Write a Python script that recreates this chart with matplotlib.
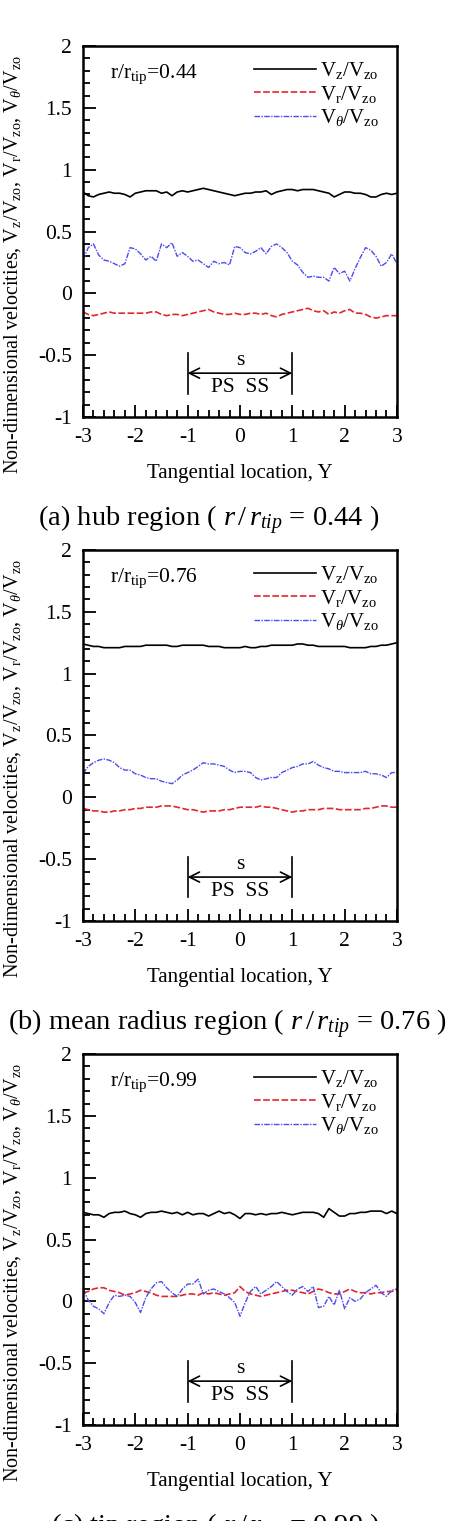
import numpy as np
import matplotlib

matplotlib.use("Agg")
import matplotlib.pyplot as plt
from matplotlib.ticker import MultipleLocator, FormatStrFormatter

plt.rcParams.update(
    {
        "font.family": ["Liberation Serif", "DejaVu Serif"],
        "mathtext.fontset": "custom",
        "mathtext.rm": "Liberation Serif",
        "mathtext.it": "Liberation Serif:italic",
        "axes.unicode_minus": False,
    }
)

# tangential location of the survey points
Y_LOC = np.linspace(-3, 3, 61)

# (a) hub region, r/r_tip = 0.44
HUB_VZ = [0.82, 0.79, 0.78, 0.80, 0.81, 0.82, 0.81, 0.81, 0.80, 0.78, 0.81,
          0.82, 0.83, 0.83, 0.83, 0.81, 0.82, 0.79, 0.82, 0.83, 0.82, 0.83,
          0.84, 0.85, 0.84, 0.83, 0.82, 0.81, 0.80, 0.79, 0.80, 0.81, 0.81,
          0.82, 0.82, 0.83, 0.80, 0.82, 0.83, 0.84, 0.84, 0.83, 0.84, 0.84,
          0.84, 0.83, 0.82, 0.81, 0.78, 0.80, 0.82, 0.82, 0.81, 0.81, 0.80,
          0.78, 0.78, 0.80, 0.81, 0.80, 0.81]
HUB_VR = [-0.15, -0.17, -0.18, -0.17, -0.16, -0.15, -0.16, -0.16, -0.16, -0.16,
          -0.16, -0.16, -0.16, -0.15, -0.15, -0.17, -0.18, -0.17, -0.17, -0.18,
          -0.17, -0.16, -0.15, -0.14, -0.13, -0.15, -0.16, -0.17, -0.17, -0.16,
          -0.17, -0.17, -0.16, -0.16, -0.17, -0.16, -0.18, -0.19, -0.17, -0.16,
          -0.15, -0.14, -0.13, -0.12, -0.14, -0.15, -0.14, -0.17, -0.15, -0.16,
          -0.14, -0.13, -0.16, -0.16, -0.17, -0.19, -0.20, -0.19, -0.18, -0.18,
          -0.18]
HUB_VT = [0.27, 0.37, 0.40, 0.31, 0.27, 0.26, 0.24, 0.22, 0.24, 0.37, 0.36,
          0.32, 0.27, 0.30, 0.26, 0.40, 0.37, 0.41, 0.30, 0.33, 0.30, 0.26,
          0.27, 0.24, 0.21, 0.26, 0.24, 0.25, 0.23, 0.38, 0.37, 0.33, 0.32,
          0.34, 0.37, 0.32, 0.38, 0.40, 0.37, 0.33, 0.26, 0.23, 0.17, 0.13,
          0.14, 0.13, 0.13, 0.10, 0.21, 0.16, 0.18, 0.10, 0.20, 0.29, 0.37,
          0.35, 0.30, 0.22, 0.25, 0.32, 0.24]

# (b) mean radius region, r/r_tip = 0.76
MEAN_VZ = [1.24, 1.23, 1.22, 1.22, 1.21, 1.21, 1.21, 1.21, 1.22, 1.22, 1.22,
           1.22, 1.23, 1.23, 1.23, 1.23, 1.23, 1.22, 1.22, 1.23, 1.23, 1.23,
           1.23, 1.23, 1.22, 1.22, 1.22, 1.21, 1.21, 1.21, 1.21, 1.22, 1.21,
           1.21, 1.22, 1.22, 1.23, 1.23, 1.23, 1.23, 1.23, 1.24, 1.24, 1.23,
           1.23, 1.22, 1.22, 1.22, 1.22, 1.22, 1.22, 1.21, 1.21, 1.21, 1.21,
           1.22, 1.22, 1.23, 1.23, 1.24, 1.25]
MEAN_VR = [-0.09, -0.10, -0.11, -0.11, -0.12, -0.12, -0.11, -0.11, -0.10, -0.10,
           -0.09, -0.09, -0.08, -0.08, -0.08, -0.07, -0.07, -0.07, -0.08, -0.09,
           -0.10, -0.10, -0.11, -0.12, -0.11, -0.11, -0.11, -0.10, -0.10, -0.09,
           -0.08, -0.08, -0.08, -0.08, -0.07, -0.08, -0.08, -0.09, -0.10, -0.11,
           -0.12, -0.11, -0.11, -0.10, -0.10, -0.10, -0.09, -0.09, -0.09, -0.10,
           -0.10, -0.10, -0.10, -0.10, -0.09, -0.09, -0.08, -0.07, -0.07, -0.08,
           -0.08]
MEAN_VT = [0.19, 0.25, 0.28, 0.30, 0.31, 0.30, 0.28, 0.24, 0.22, 0.22, 0.19,
           0.18, 0.16, 0.15, 0.15, 0.13, 0.12, 0.11, 0.14, 0.18, 0.20, 0.22,
           0.25, 0.28, 0.27, 0.27, 0.26, 0.25, 0.22, 0.20, 0.21, 0.21, 0.20,
           0.16, 0.14, 0.15, 0.16, 0.16, 0.20, 0.22, 0.24, 0.25, 0.27, 0.27,
           0.29, 0.26, 0.24, 0.23, 0.21, 0.21, 0.20, 0.20, 0.20, 0.20, 0.21,
           0.19, 0.19, 0.18, 0.16, 0.20, 0.20]

# (c) tip region, r/r_tip = 0.99
TIP_VZ = [0.72, 0.71, 0.70, 0.70, 0.68, 0.71, 0.72, 0.72, 0.73, 0.71, 0.70,
          0.68, 0.71, 0.72, 0.72, 0.73, 0.72, 0.71, 0.72, 0.70, 0.72, 0.70,
          0.71, 0.71, 0.69, 0.71, 0.73, 0.71, 0.72, 0.70, 0.67, 0.71, 0.71,
          0.70, 0.71, 0.70, 0.71, 0.71, 0.72, 0.71, 0.70, 0.71, 0.72, 0.72,
          0.72, 0.71, 0.68, 0.75, 0.72, 0.69, 0.69, 0.71, 0.71, 0.72, 0.72,
          0.73, 0.73, 0.73, 0.71, 0.73, 0.71]
TIP_VR = [0.07, 0.08, 0.10, 0.11, 0.11, 0.09, 0.08, 0.07, 0.05, 0.06, 0.07,
          0.09, 0.08, 0.07, 0.05, 0.04, 0.04, 0.04, 0.04, 0.05, 0.06, 0.06,
          0.05, 0.07, 0.06, 0.07, 0.06, 0.05, 0.06, 0.07, 0.12, 0.08, 0.06,
          0.05, 0.04, 0.05, 0.06, 0.07, 0.08, 0.09, 0.09, 0.08, 0.07, 0.06,
          0.08, 0.10, 0.09, 0.07, 0.06, 0.06, 0.08, 0.10, 0.08, 0.07, 0.07,
          0.06, 0.07, 0.07, 0.08, 0.08, 0.09]
TIP_VT = [0.10, 0.01, -0.04, -0.06, -0.10, -0.01, 0.05, 0.04, 0.05, 0.04, -0.01,
          -0.09, 0.03, 0.10, 0.15, 0.16, 0.11, 0.07, 0.04, 0.10, 0.14, 0.14,
          0.18, 0.06, 0.09, 0.10, 0.08, 0.06, 0.03, -0.01, -0.12, -0.01, 0.08,
          0.12, 0.06, 0.09, 0.12, 0.16, 0.12, 0.08, 0.05, 0.10, 0.12, 0.08,
          0.12, -0.05, -0.04, 0.04, -0.03, 0.09, -0.06, 0.03, 0.00, 0.02, 0.07,
          0.10, 0.13, 0.07, 0.04, 0.09, 0.10]

RADII = ["0.44", "0.76", "0.99"]
REGIONS = ["(a) hub region", "(b) mean radius region", "(c) tip region"]
VZ = [HUB_VZ, MEAN_VZ, TIP_VZ]
VR = [HUB_VR, MEAN_VR, TIP_VR]
VT = [HUB_VT, MEAN_VT, TIP_VT]

BOTTOMS = [0.7258, 0.3945, 0.0631]
CAPTION_X = [0.40, 0.46, 0.42]

RED = "#e3262c"
BLUE = "#4b4bf0"

LBL_Z = r"V$_\mathrm{z}$/V$_\mathrm{zo}$"
LBL_R = r"V$_\mathrm{r}$/V$_\mathrm{zo}$"
LBL_T = r"V$_\theta$/V$_\mathrm{zo}$"


fig = plt.figure(figsize=(4.55, 15.21), dpi=100)

for i in range(3):
    ax = fig.add_axes([0.1824, BOTTOMS[i], 0.690, 0.2439])

    ax.plot(Y_LOC, VZ[i], color="black", lw=1.2, label=LBL_Z)
    ax.plot(Y_LOC, VR[i], color=RED, lw=1.2, ls=(0, (4, 1.5)), label=LBL_R)
    ax.plot(Y_LOC, VT[i], color=BLUE, lw=1.0, ls=(0, (4, 1, 1, 1)), label=LBL_T)

    ax.set_xlim(-3, 3)
    ax.set_ylim(-1, 2)
    ax.xaxis.set_major_locator(MultipleLocator(1))
    ax.xaxis.set_minor_locator(MultipleLocator(0.2))
    ax.yaxis.set_major_locator(MultipleLocator(0.5))
    ax.yaxis.set_minor_locator(MultipleLocator(0.1))
    ax.yaxis.set_major_formatter(FormatStrFormatter("%g"))
    ax.xaxis.set_major_formatter(FormatStrFormatter("%g"))
    ax.tick_params(which="both", direction="in", top=False, right=False,
                   labelsize=15.5, width=1.3)
    ax.tick_params(which="major", length=9, pad=8)
    ax.tick_params(which="minor", length=5)
    for spine in ax.spines.values():
        spine.set_linewidth(1.8)

    ax.set_xlabel("Tangential location, Y", fontsize=15, labelpad=12)
    ax.set_ylabel(
        "Non-dimensional velocities, " + LBL_Z + ", " + LBL_R + ", " + LBL_T,
        fontsize=14.5,
    )
    ax.yaxis.set_label_coords(-0.19, 0.41)

    ax.text(0.086, 0.925, r"r/r$_\mathrm{tip}$=" + RADII[i],
            transform=ax.transAxes, fontsize=15.5, ha="left", va="center")

    ax.legend(loc="upper left", bbox_to_anchor=(0.51, 0.99), frameon=False,
              fontsize=15, handlelength=3.0, handletextpad=0.2,
              labelspacing=0.12, borderpad=0)

    # blade pitch marker
    for xb in (-1, 1):
        ax.plot([xb, xb], [-0.48, -0.81], color="black", lw=1.2)
    ax.annotate("", xy=(1, -0.645), xytext=(-1, -0.645),
                arrowprops=dict(arrowstyle="<->", color="black", lw=1.2,
                                shrinkA=0, shrinkB=0, mutation_scale=18))
    ax.text(0, -0.545, "s", fontsize=15.5, ha="center", va="center")
    ax.text(0, -0.765, "PS  SS", fontsize=15.5, ha="center", va="center")

    ax.text(CAPTION_X[i], -0.278,
            REGIONS[i] + r" ( $r\,/\,r_{tip}$ = " + RADII[i] + " )",
            transform=ax.transAxes, fontsize=20.5, ha="center", va="center")

fig.savefig("out.png", dpi=100)
